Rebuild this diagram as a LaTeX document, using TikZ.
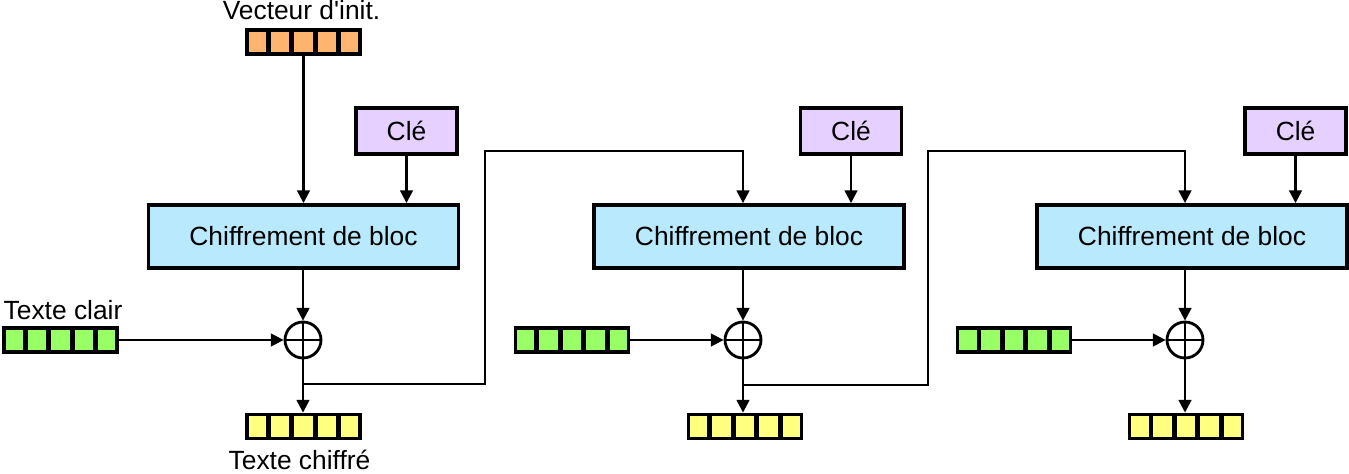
\documentclass[tikz,border=0pt]{standalone}
\usepackage{fontspec}
\setmainfont{Liberation Sans}[Ligatures=TeXOff]
\usepackage{tikz}
\usetikzlibrary{arrows.meta,calc}

\definecolor{ivorange}{RGB}{255,181,112}
\definecolor{keypurple}{RGB}{229,208,255}
\definecolor{cipherblue}{RGB}{184,233,253}
\definecolor{plaingreen}{RGB}{153,255,102}
\definecolor{outyellow}{RGB}{255,255,128}

\begin{document}
\begin{tikzpicture}[every node/.style={font=\fontsize{7.5}{9}\selectfont}]
    \tikzstyle{cipher box}=[
        draw = black,
        line width = 1.1pt,
        fill = cipherblue,
        minimum width = 3.1cm,
        minimum height = 0.63cm
    ]
    \tikzstyle{key box}=[
        draw = black,
        line width = 1.1pt,
        fill = keypurple,
        minimum width = 1.01cm,
        minimum height = 0.46cm
    ]
    \tikzstyle{register}=[
        draw = black,
        line width = 1.1pt,
        minimum width = 1.13cm,
        minimum height = 0.24cm,
        inner sep = 0pt
    ]
    \tikzstyle{xor}=[
        draw = black,
        line width = 0.8pt,
        minimum size = 0.36cm,
        inner sep = 0pt,
        circle
    ]
    \tikzstyle{flow}=[line width = 0.65pt, -{Triangle[length=3.6pt,width=3.6pt]}]

    \useasboundingbox (0,0) rectangle (13.49,4.73);

    % first stage
    \node[anchor=base] (ivlabel) at (3.015, 4.54) {Vecteur d'init.};
    \node[register, fill=ivorange]   (iv) at (3.035, 4.31) {};
    \node[key box]    (k1) at (4.065, 3.42)  {Clé};
    \node[cipher box] (b1) at (3.035, 2.365) {Chiffrement de bloc};
    \node[xor]        (x1) at (3.03, 1.33)   {};
    \node[register, fill=plaingreen] (p1) at (0.605, 1.33) {};
    \node[anchor=base west, inner sep=0pt] (p1label) at (0.03, 1.54) {Texte clair};
    \node[register, fill=outyellow]  (c1) at (3.035, 0.465) {};
    \node[anchor=base] (c1label) at (2.995, 0.04) {Texte chiffré};

    % second stage
    \node[key box]    (k2) at (8.51, 3.42)   {Clé};
    \node[cipher box] (b2) at (7.49, 2.365)  {Chiffrement de bloc};
    \node[xor]        (x2) at (7.43, 1.33)   {};
    \node[register, fill=plaingreen] (p2) at (5.72, 1.33) {};
    \node[register, fill=outyellow]  (c2) at (7.45, 0.465) {};

    % third stage
    \node[key box]    (k3) at (12.955, 3.42) {Clé};
    \node[cipher box] (b3) at (11.92, 2.365) {Chiffrement de bloc};
    \node[xor]        (x3) at (11.85, 1.33)  {};
    \node[register, fill=plaingreen] (p3) at (10.14, 1.33) {};
    \node[register, fill=outyellow]  (c3) at (11.86, 0.465) {};

    % cells of the registers
    \foreach \r in {iv, p1, p2, p3, c1, c2, c3}
        \foreach \k in {1,...,4}
            \draw[line width=1.4pt] ($(\r.north west)!\k/5!(\r.north east)$) -- ($(\r.south west)!\k/5!(\r.south east)$);

    % plus signs
    \foreach \x in {x1, x2, x3} {
        \draw[line width=0.6pt] (\x.north) -- (\x.south);
        \draw[line width=0.6pt] (\x.west) -- (\x.east);
    }

    \coordinate (j1) at (3.03, 0.89);
    \coordinate (t2) at (4.85, 3.22);
    \coordinate (j2) at (7.43, 0.88);
    \coordinate (t3) at (9.28, 3.22);

    \draw[flow] (iv.south) -- (iv.south |- b1.north);
    \draw[flow] (k1.south) -- (k1.south |- b1.north);
    \draw[flow] (b1.south -| x1) -- (x1.north);
    \draw[flow] (p1.east) -- (x1.west);
    \draw[flow] (x1.south) -- (x1.south |- c1.north);
    \draw[flow] (j1) -| (t2) -| (b2.north -| x2);

    \draw[flow] (k2.south) -- (k2.south |- b2.north);
    \draw[flow] (b2.south -| x2) -- (x2.north);
    \draw[flow] (p2.east) -- (x2.west);
    \draw[flow] (x2.south) -- (x2.south |- c2.north);
    \draw[flow] (j2) -| (t3) -| (b3.north -| x3);

    \draw[flow] (k3.south) -- (k3.south |- b3.north);
    \draw[flow] (b3.south -| x3) -- (x3.north);
    \draw[flow] (p3.east) -- (x3.west);
    \draw[flow] (x3.south) -- (x3.south |- c3.north);

\end{tikzpicture}
\end{document}
